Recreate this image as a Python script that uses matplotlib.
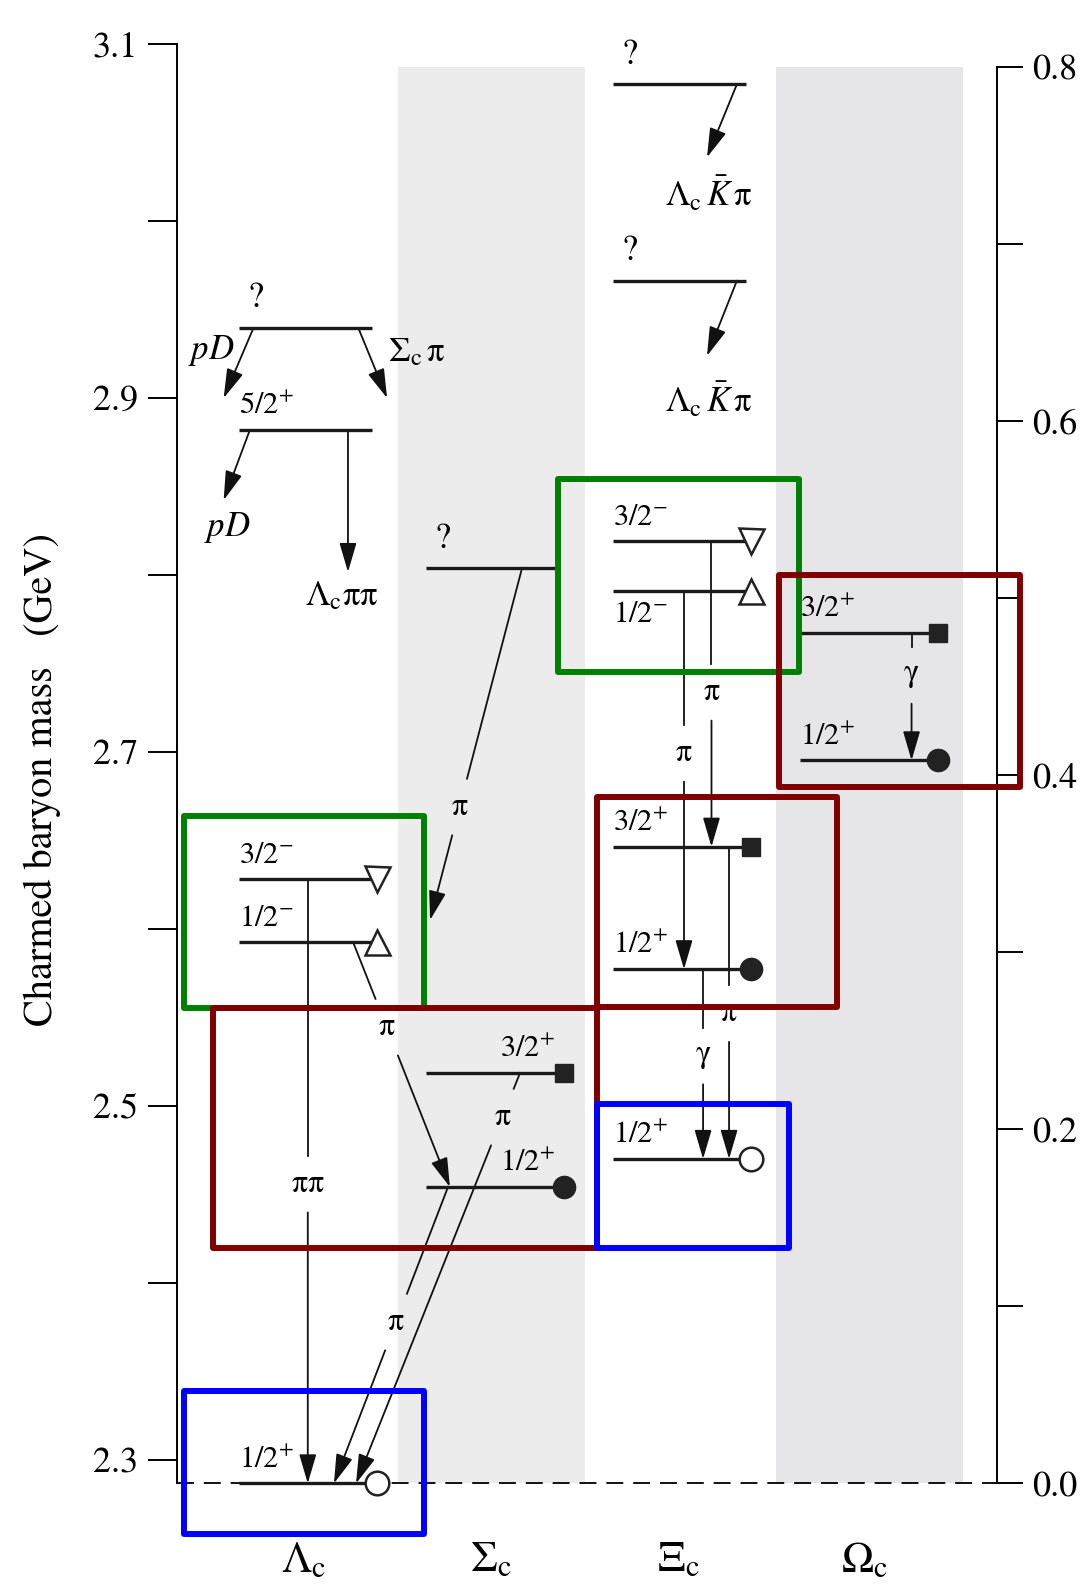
import matplotlib.pyplot as plt
from matplotlib.patches import Rectangle

plt.rcParams['font.family'] = ['STIXGeneral', 'DejaVu Serif']
plt.rcParams['mathtext.fontset'] = 'stix'

# ---------------- data ----------------
families = [r'$\Lambda_{\rm c}$', r'$\Sigma_{\rm c}$', r'$\Xi_{\rm c}$', r'$\Omega_{\rm c}$']
ground = 2.2865  # Lambda_c(2286), zero of the right-hand scale

# levels: family column, mass (GeV), J^P, marker kind
lvl_col = [0, 0, 0, 0, 0, 1, 1, 1, 2, 2, 2, 2, 2, 2, 2, 3, 3]
lvl_mass = [2.2865, 2.5924, 2.6281, 2.8816, 2.9394, 2.4540, 2.5184, 2.8037,
            2.4698, 2.5770, 2.6462, 2.7907, 2.8190, 2.9660, 3.0770, 2.6950, 2.7670]
lvl_jp = ['1/2+', '1/2-', '3/2-', '5/2+', '?', '1/2+', '3/2+', '?',
          '1/2+', '1/2+', '3/2+', '1/2-', '3/2-', '?', '?', '1/2+', '3/2+']
lvl_sym = ['open', 'up', 'down', '', '', 'dot', 'sq', '',
           'open', 'dot', 'sq', 'up', 'down', '', '', 'dot', 'sq']

# decays: parent level, daughter level (None = open channel), emitted particle, final state text
dec_from = [4, 4, 3, 3, 2, 1, 7, 5, 6, 14, 13, 12, 11, 10, 9, 16]
dec_to = [None, None, None, None, 0, 5, None, 0, 0, None, None, 10, 9, 8, 8, 15]
dec_emit = ['', '', '', '', r'$\mathrm{\pi\pi}$', r'$\mathrm{\pi}$', r'$\mathrm{\pi}$',
            r'$\mathrm{\pi}$', r'$\mathrm{\pi}$', '', '', r'$\mathrm{\pi}$', r'$\mathrm{\pi}$',
            r'$\mathrm{\pi}$', r'$\mathrm{\gamma}$', r'$\mathrm{\gamma}$']
dec_final = [r'$pD$', r'$\Sigma_{\rm c}\,\mathrm{\pi}$', r'$pD$', r'$\Lambda_{\rm c}\mathrm{\pi\pi}$',
             '', '', '', '', '', r'$\Lambda_{\rm c}\,\bar{K}\,\mathrm{\pi}$',
             r'$\Lambda_{\rm c}\,\bar{K}\,\mathrm{\pi}$', '', '', '', '', '']

left_ticks = [2.3, 2.4, 2.5, 2.6, 2.7, 2.8, 2.9, 3.0, 3.1]
left_labels = ['2.3', '', '2.5', '', '2.7', '', '2.9', '', '3.1']
right_ticks = [0.0, 0.1, 0.2, 0.3, 0.4, 0.5, 0.6, 0.7, 0.8]
right_labels = ['0.0', '', '0.2', '', '0.4', '', '0.6', '', '0.8']

# ---------------- layout (x in column units, column centre = index) ----------------
dec_x0 = [-0.27, 0.29, -0.29, 0.235, 0.02, 0.262, 1.166, 0.77, 1.155,
          2.315, 2.315, 2.179, 2.032, 2.273, 2.134, 3.249]
dec_x1 = [-0.43, 0.444, -0.43, 0.235, 0.02, 0.78, 0.674, 0.16, 0.278,
          2.155, 2.155, 2.179, 2.032, 2.273, 2.134, 3.249]
dec_tip = [2.8997, 2.8997, 2.842, 2.8014, None, None, 2.6048, None, None,
           3.0357, 2.9235, None, None, None, None, None]
dec_lab_m = [None, None, None, None, 2.4556, 2.5443, 2.6687, 2.3777, 2.4935,
             None, None, 2.7335, 2.699, 2.552, 2.528, 2.743]
fin_x = [-0.497, 0.449, -0.41, 0.203, 0, 0, 0, 0, 0, 2.165, 2.165, 0, 0, 0, 0, 0]
fin_m = [2.9268, 2.925, 2.8263, 2.7873, 0, 0, 0, 0, 0, 3.0144, 2.898, 0, 0, 0, 0, 0]
gap = 0.016

fig = plt.figure(figsize=(10.92, 15.87), dpi=100)
ax = fig.add_axes([0, 0, 1, 1])
ax.set_xlim(-1.626, 4.214)
ax.set_ylim(2.2280, 3.12458)

x_left, x_right = -0.679, 3.706

# shaded family bands
ax.bar([1, 3.025], [0.8, 0.8], bottom=ground, width=1.0,
       color=['#ececec', '#e6e6e8'], zorder=0)

# threshold line
ax.plot([x_left, x_right], [ground, ground], color='#111111', lw=1.4,
        ls=(0, (8.7, 5.1)), zorder=1)

# levels
mk = {'open': dict(marker='o', ms=17, mfc='white', mec='#222222', mew=1.8),
      'dot': dict(marker='o', ms=16, mfc='#222222', mec='#222222'),
      'sq': dict(marker='s', ms=13, mfc='#222222', mec='#222222'),
      'up': dict(marker='^', ms=18, mfc='white', mec='#222222', mew=1.8),
      'down': dict(marker='v', ms=18, mfc='white', mec='#222222', mew=1.8)}
for c, m, jp, s in zip(lvl_col, lvl_mass, lvl_jp, lvl_sym):
    xe = c + 0.39 if s else c + 0.365
    ax.plot([c - 0.35, xe], [m, m], color='#1a1a1a', lw=2.4, solid_capstyle='butt', zorder=3)
    if s:
        ax.plot([xe], [m], zorder=4, **mk[s])
    if jp == '?':
        ax.text(c - 0.26, m + 0.007, '?', ha='center', va='bottom', fontsize=26, zorder=5)
        continue
    txt = r'$%s^{%s}$' % (jp[:-1], '+' if jp[-1] == '+' else '-')
    if c == 1:
        ax.text(c + 0.34, m + 0.005, txt, ha='right', va='bottom', fontsize=22, zorder=5)
    elif jp == '1/2-' and c == 2:
        ax.text(c - 0.35, m - 0.006, txt, ha='left', va='top', fontsize=22, zorder=5)
    else:
        ax.text(c - 0.35, m + 0.005, txt, ha='left', va='bottom', fontsize=22, zorder=5)

arrow_kw = dict(arrowstyle='-|>,head_length=0.75,head_width=0.22', mutation_scale=24,
                lw=1.3, color='#111111', shrinkA=0, shrinkB=0)


def draw_arrow(xa, ma, xb, mb):
    ax.annotate('', xy=(xb, mb), xytext=(xa, ma), arrowprops=arrow_kw, zorder=2)


# decays
for i in range(len(dec_from)):
    m0 = lvl_mass[dec_from[i]]
    m1 = lvl_mass[dec_to[i]] if dec_to[i] is not None else dec_tip[i]
    if dec_tip[i] is not None:
        m1 = dec_tip[i]
    x0, x1 = dec_x0[i], dec_x1[i]
    lm = dec_lab_m[i]
    if lm is None:
        draw_arrow(x0, m0, x1, m1)
    else:
        ta = (m0 - lm - gap) / (m0 - m1)
        tb = (m0 - lm + gap) / (m0 - m1)
        t = (m0 - lm) / (m0 - m1)
        ax.plot([x0, x0 + ta * (x1 - x0)], [m0, m0 - ta * (m0 - m1)],
                color='#111111', lw=1.3, zorder=2)
        draw_arrow(x0 + tb * (x1 - x0), m0 - tb * (m0 - m1), x1, m1)
        ax.text(x0 + t * (x1 - x0), lm, dec_emit[i], ha='center', va='center',
                fontsize=23, zorder=5)
    if dec_final[i]:
        ha = 'left' if i == 1 else 'center'
        ax.text(fin_x[i], fin_m[i], dec_final[i], ha=ha, va='center', fontsize=25, zorder=5)

# family names
for i, name in enumerate(families):
    ax.text(i, 2.2427, name, ha='center', va='center', fontsize=31)

# axes
for side in ['top', 'right', 'bottom']:
    ax.spines[side].set_visible(False)
ax.spines['left'].set_position(('data', x_left))
ax.spines['left'].set_bounds(ground, 3.1)
ax.spines['left'].set_linewidth(1.4)
ax.set_xticks([])
ax.set_yticks(left_ticks, left_labels)
ax.tick_params(axis='y', direction='out', length=21, width=1.4, pad=7, labelsize=26)
ax.set_ylabel('Charmed baryon mass   (GeV)', fontsize=29)
ax.yaxis.set_label_coords(0.056, 0.509)

sec = ax.secondary_yaxis(997 / 1092, functions=(lambda m: m - ground, lambda e: e + ground))
sec.spines['left'].set_visible(False)
sec.spines['right'].set_bounds(0, 0.8)
sec.spines['right'].set_linewidth(1.4)
sec.set_yticks(right_ticks, right_labels)
sec.tick_params(axis='y', direction='out', length=19, width=1.4, pad=6, labelsize=26)

# highlight boxes
boxes = [(1.358, 2.647, 2.745, 2.854, '#008000'),
         (-0.642, 0.642, 2.5551, 2.6636, '#008000'),
         (2.540, 3.829, 2.680, 2.7997, '#800000'),
         (1.567, 2.850, 2.5557, 2.6743, '#800000'),
         (-0.487, 1.567, 2.4195, 2.5551, '#800000'),
         (1.567, 2.594, 2.4195, 2.5008, '#0000ff'),
         (-0.642, 0.642, 2.2579, 2.3387, '#0000ff')]
for xa, xb, ma, mb, col in boxes:
    ax.add_patch(Rectangle((xa, ma), xb - xa, mb - ma, fill=False, edgecolor=col,
                           lw=4.3, joinstyle='round', zorder=10))

fig.savefig('out.png', dpi=100)
